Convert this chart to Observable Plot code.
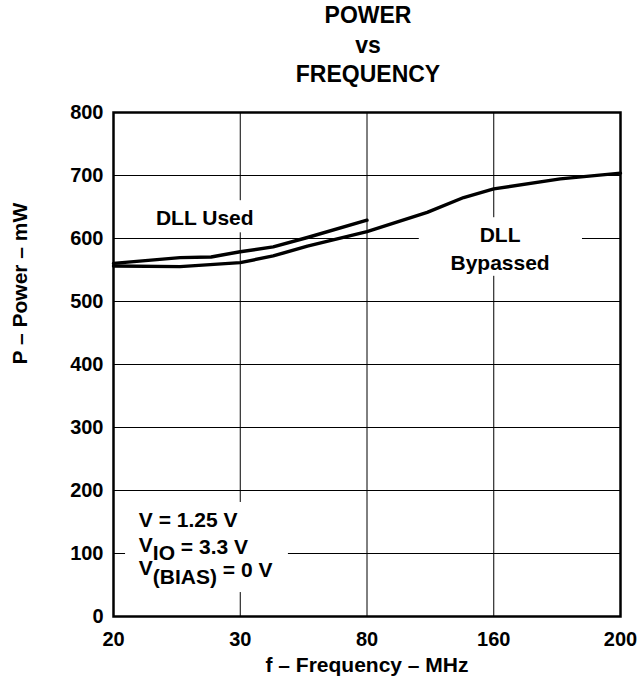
<!DOCTYPE html>
<html><head><meta charset="utf-8">
<script src="https://cdn.jsdelivr.net/npm/d3@7"></script>
<script src="https://cdn.jsdelivr.net/npm/@observablehq/plot@0.6"></script>
<style>
body{margin:0;background:#fff;font-family:"Liberation Sans",Arial,sans-serif;}
#title{height:95px;width:641px;box-sizing:border-box;padding-top:1px;padding-left:95px;text-align:center;font-weight:bold;font-size:23px;line-height:29.5px;color:#000;}
#chart svg{display:block;}
</style></head><body>
<div id="title">POWER<br>vs<br>FREQUENCY</div>
<div id="chart"></div>
<script>
// Tick values
const xTicks = [20, 30, 80, 160, 200];          // MHz (equally spaced on the axis)
const yTicks = [0, 100, 200, 300, 400, 500, 600, 700, 800];

// DLL Used series
const usedFreq  = [20, 25.25, 27.7, 30, 43, 56.5, 80];
const usedPower = [560.6, 569.7, 570.7, 579, 586.7, 601.6, 629];

// DLL Bypassed series
const bypFreq  = [20, 25.25, 30, 43, 56.5, 80, 118, 141, 160, 181, 200];
const bypPower = [556.4, 555.3, 561.7, 572.3, 588, 611, 641.5, 665, 678.7, 694.7, 703.7];

// Texts
const xLabel = "f – Frequency – MHz";
const yLabel = "P – Power – mW";
const seriesNames = ["DLL Used", "DLL\nBypassed"];
const seriesNameFreq = [27.2, 162];
const seriesNamePower = [636, 586];
const condMain = ["V = 1.25 V", "V", "V"];
const condSub  = ["", "IO", "(BIAS)"];
const condRest = ["", " = 3.3 V", " = 0 V"];
const condFreq = [22.0, 22.0, 22.0];
const condPower = [152, 113, 76];

// White label boxes (in data units)
const boxX1 = [22.9, 113, 20.95];
const boxX2 = [38, 188, 49];
const boxY1 = [609, 540, 38];
const boxY2 = [660, 633, 181];

const W = 641, H = 593, ML = 113, MR = 21, MT = 17, MB = 72;

const used = usedFreq.map((f, i) => ({f, p: usedPower[i]}));
const byp = bypFreq.map((f, i) => ({f, p: bypPower[i]}));
const names = seriesNames.map((t, i) => ({t, f: seriesNameFreq[i], p: seriesNamePower[i]}));
const conds = condMain.map((m, i) => ({t: m + condSub[i] + condRest[i], f: condFreq[i], p: condPower[i]}));
const boxes = boxX1.map((x1, i) => ({x1, x2: boxX2[i], y1: boxY1[i], y2: boxY2[i]}));

const xRange = xTicks.map((_, i) => ML + i * (W - ML - MR) / (xTicks.length - 1));

const chart = Plot.plot({
  width: W, height: H,
  marginLeft: ML, marginRight: MR, marginTop: MT, marginBottom: MB,
  style: {fontFamily: "'Liberation Sans', Arial, sans-serif", fontSize: "20px", fontWeight: "bold", color: "black", background: "white"},
  x: {type: "linear", domain: xTicks, range: xRange, ticks: xTicks, tickSize: 0, tickPadding: 15, label: null, tickFormat: d => String(d)},
  y: {domain: [0, 800], ticks: yTicks, tickSize: 0, tickPadding: 10, label: null},
  marks: [
    Plot.ruleX(xTicks, {x: d => d, stroke: "black", strokeWidth: 1}),
    Plot.ruleY(yTicks, {y: d => d, stroke: "black", strokeWidth: 1}),
    Plot.rect(boxes, {x1: "x1", x2: "x2", y1: "y1", y2: "y2", fill: "white"}),
    Plot.frame({stroke: "black", strokeWidth: 2.5}),
    Plot.line(byp, {x: "f", y: "p", stroke: "black", strokeWidth: 3.4, strokeLinejoin: "round"}),
    Plot.line(used, {x: "f", y: "p", stroke: "black", strokeWidth: 3.4, strokeLinejoin: "round"}),
    Plot.text(names, {x: "f", y: "p", text: "t", fontSize: 21, fontWeight: "bold", lineHeight: 1.3, fill: "black"}),
    Plot.text(conds, {x: "f", y: "p", text: "t", fontSize: 21, fontWeight: "bold", textAnchor: "start", fill: "black"}),
    Plot.text([xLabel], {frameAnchor: "bottom", text: d => d, dy: 55, fontSize: 21, fontWeight: "bold", fill: "black"}),
    Plot.text([yLabel], {frameAnchor: "left", text: d => d, dx: -93, rotate: -90, fontSize: 21, fontWeight: "bold", fill: "black"})
  ]
});

// subscripts
d3.select(chart).selectAll("text").each(function() {
  const el = d3.select(this);
  const txt = this.textContent;
  condMain.forEach((m, i) => {
    if (!condSub[i]) return;
    if (txt === m + condSub[i] + condRest[i]) {
      el.text(null);
      el.append("tspan").text(m);
      el.append("tspan").attr("dy", "0.4em").text(condSub[i]);
      el.append("tspan").attr("dy", "-0.3em").text(condRest[i]);
    }
  });
});

document.getElementById("chart").appendChild(chart);
</script>
</body></html>
